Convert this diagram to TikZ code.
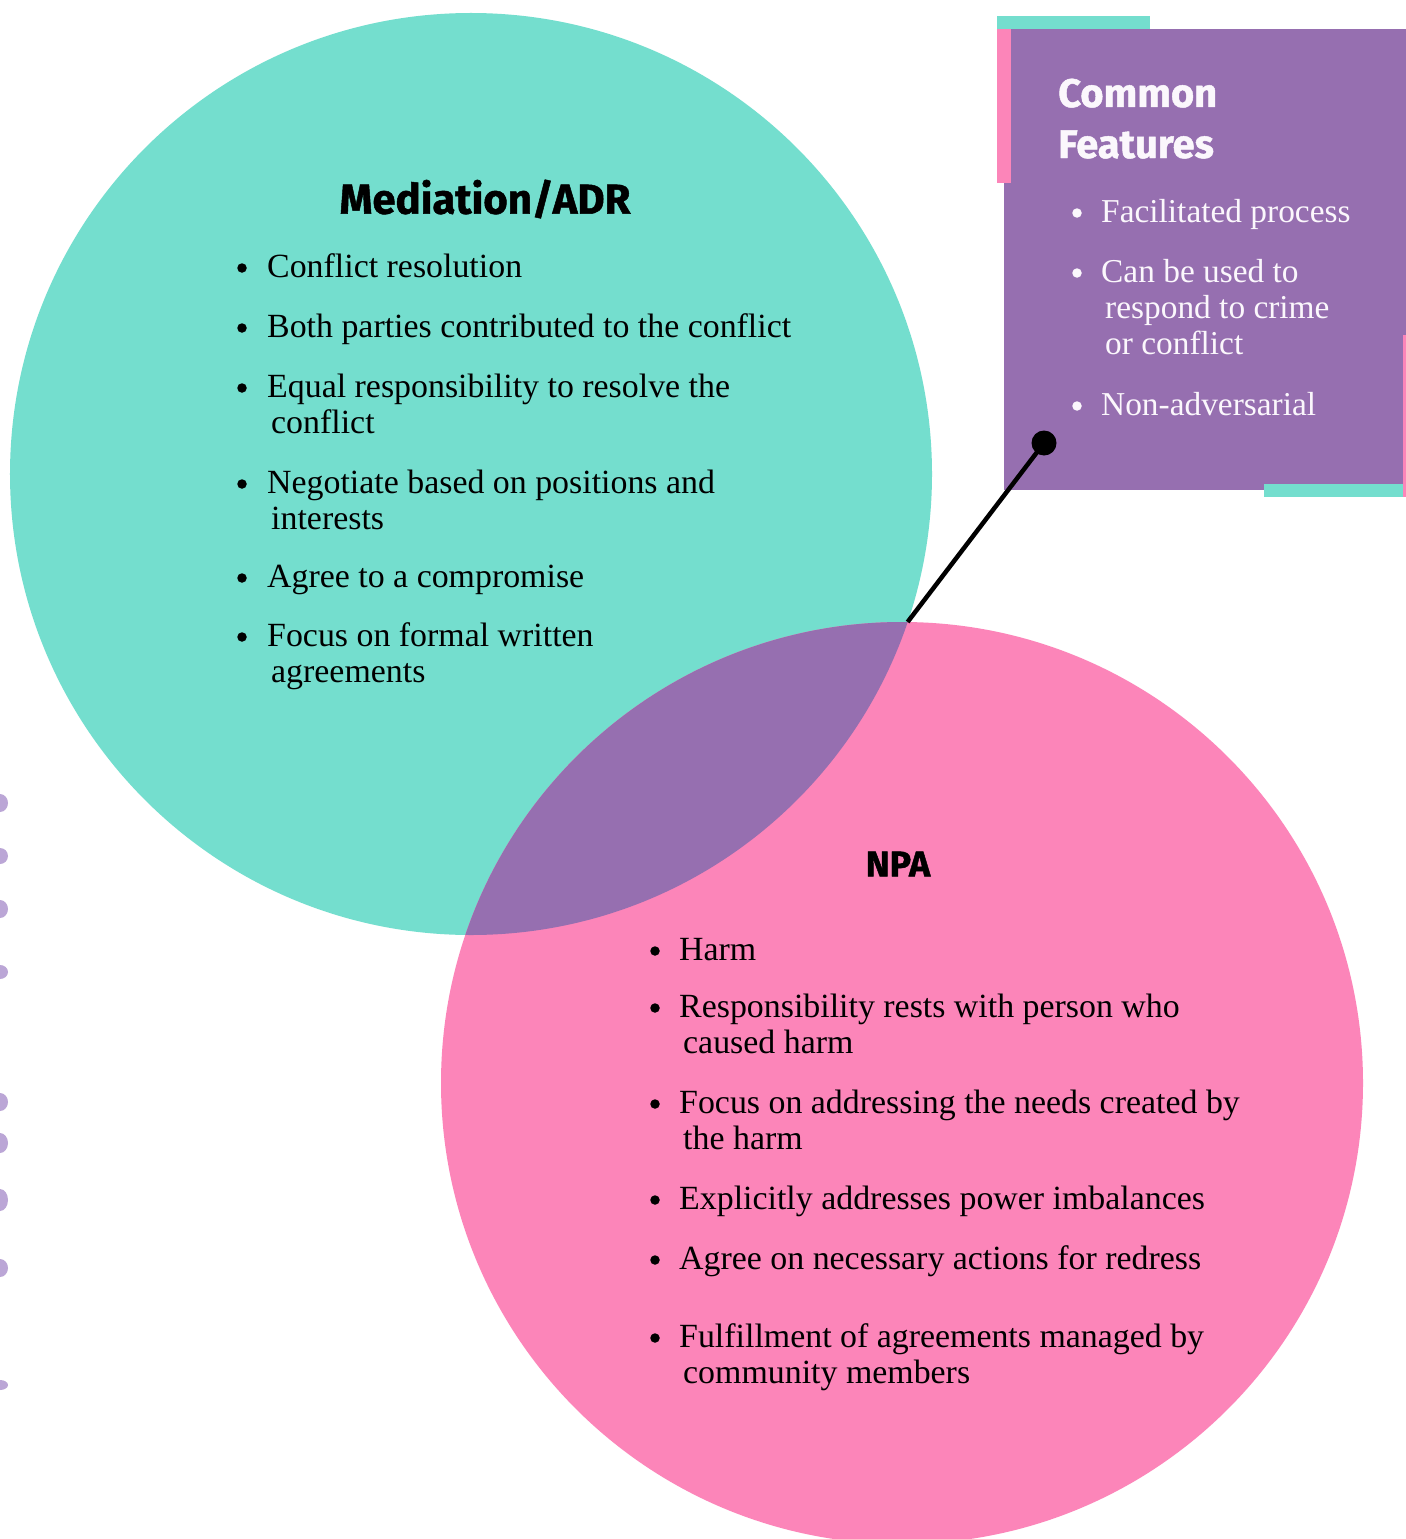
\documentclass[tikz,border=0pt]{standalone}
\usepackage{fontspec}
\setmainfont{Liberation Serif}
\newfontfamily\headfont{Fira Sans}[BoldFeatures={FakeBold=1.2}]
\definecolor{tealc}{HTML}{74DECE}
\definecolor{pinkc}{HTML}{FC85B9}
\definecolor{purpc}{HTML}{966FB0}
\definecolor{lavc}{HTML}{BBA6D6}
\definecolor{offwhite}{HTML}{FBF7FC}
\begin{document}
\begin{tikzpicture}[x=1bp,y=-1bp,
  item/.style={anchor=base west, inner sep=0, font=\fontsize{34}{36}\selectfont},
  witem/.style={item, text=offwhite, font=\fontsize{33.5}{36}\selectfont},
  bul/.style={circle, fill=black, inner sep=0, minimum size=9.5bp},
  wbul/.style={bul, fill=offwhite},
  head/.style={inner sep=0, font=\headfont\bfseries\fontsize{42}{48}\selectfont},
  blob/.style={fill=lavc, draw=none}]
\useasboundingbox (0,0) rectangle (1406,1539);
\fill[white] (0,0) rectangle (1406,1539);
% left edge marks
\foreach \yy/\h in {803/9,856/8,909/9,972/7,1102/9,1143/10,1200/11,1268/9,1385/5}
  \fill[blob] (0,\yy) ellipse [x radius=8bp, y radius=\h bp];
% circles
\node[circle, fill=tealc, minimum size=922bp, inner sep=0] (adr) at (471,474) {};
\node[circle, fill=pinkc, minimum size=922bp, inner sep=0] (npa) at (902,1083) {};
\begin{scope}
  \clip (471,474) circle [radius=461bp];
  \fill[purpc] (902,1083) circle [radius=461bp];
\end{scope}
% common features box
\fill[purpc] (1004,29) rectangle (1406,490);
\fill[tealc] (997,16) rectangle (1150,29);
\fill[pinkc] (997,29) rectangle (1011,183);
\fill[tealc] (1264,484) rectangle (1403,497);
\fill[pinkc] (1403,335) rectangle (1406,497);
\node[head, font=\headfont\bfseries\fontsize{40}{48}\selectfont, text=offwhite, anchor=base west] (cf1) at (1058,107) {Common};
\node[head, font=\headfont\bfseries\fontsize{40}{48}\selectfont, text=offwhite, anchor=base west] (cf2) at (1058,158) {Features};
\foreach \yy/\txt/\nm in {213/Facilitated process/c1,273/Can be used to/c2,406/Non-adversarial/c4}{
  \node[wbul] (b\nm) at (1077,\yy) {};
  \node[witem] (\nm) at (1101,\yy+9) {\txt};
}
\node[witem] (c2b) at (1105,318) {respond to crime};
\node[witem] (c2c) at (1105,354) {or conflict};
% connector
\coordinate (meet) at (907.6,622);
\node[circle, fill=black, minimum size=25bp, inner sep=0] (dot) at (1044,443) {};
\draw[line width=4.5bp] (meet) -- (dot.center);
% Mediation/ADR
\node[head] (adrtitle) at (485,199) {Mediation/ADR};
\foreach \yy/\txt/\nm in {268/Conflict resolution/a1,328/Both parties contributed to the conflict/a2,388/Equal responsibility to resolve the/a3,484/Negotiate based on positions and/a4,578/Agree to a compromise/a5,637/Focus on formal written/a6}{
  \node[bul] (b\nm) at (242,\yy) {};
  \node[item] (\nm) at (267,\yy+9) {\txt};
}
\node[item] (a3b) at (271,433) {conflict};
\node[item] (a4b) at (271,529) {interests};
\node[item] (a6b) at (271,682) {agreements};
% NPA
\node[head, font=\headfont\bfseries\fontsize{36}{40}\selectfont] (npatitle) at (898,864) {NPA};
\foreach \yy/\txt/\nm in {951/Harm/n1,1008/Responsibility rests with person who/n2,1104/Focus on addressing the needs created by/n3,1200/Explicitly addresses power imbalances/n4,1260/Agree on necessary actions for redress/n5,1338/Fulfillment of agreements managed by/n6}{
  \node[bul] (b\nm) at (655,\yy) {};
  \node[item] (\nm) at (679,\yy+9) {\txt};
}
\node[item] (n2b) at (683,1053) {caused harm};
\node[item] (n3b) at (683,1149) {the harm};
\node[item] (n6b) at (683,1383) {community members};
\end{tikzpicture}
\end{document}
